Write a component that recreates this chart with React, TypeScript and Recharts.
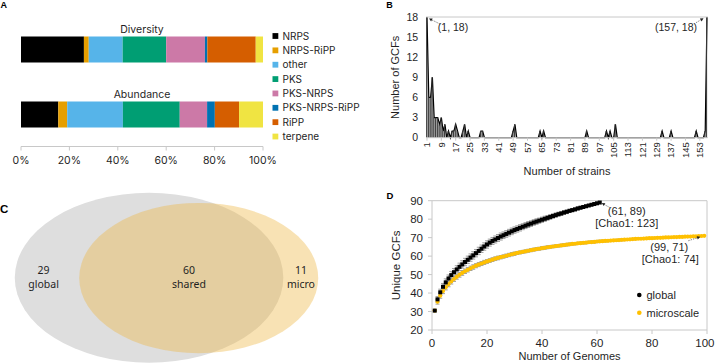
import React from 'react';
import {
  BarChart,
  Bar,
  ComposedChart,
  Area,
  ScatterChart,
  Scatter,
  XAxis,
  YAxis,
  ReferenceLine,
  ReferenceDot,
  ReferenceArea,
  ErrorBar,
} from 'recharts';

// ---------- data ----------

// A: BGC class composition (% of GCFs / % of BGCs)
const bgcClasses = ['NRPS', 'NRPS-RiPP', 'other', 'PKS', 'PKS-NRPS', 'PKS-NRPS-RiPP', 'RiPP', 'terpene'];
const classColors = ['#000000', '#E69F00', '#56B4E9', '#009E73', '#CC79A7', '#0072B2', '#D55E00', '#F0E442'];
const compositionRows = ['Diversity', 'Abundance'];
const diversityPct = [26, 2, 14, 18, 16, 1, 20, 3];
const abundancePct = [15.4, 3.7, 23.0, 23.5, 11.3, 3.2, 10.0, 9.9];
const pctTicks = [0, 20, 40, 60, 80, 100];

// B: number of GCFs shared by n strains (n = 1..157)
const gcfsPerStrainCount = [
  18, 6, 6, 9, 3, 3, 3, 2, 3, 1,
  2, 0, 1, 0, 1, 1, 2, 1, 0, 0,
  1, 2, 0, 1, 0, 0, 0, 0, 0, 0,
  1, 1, 0, 0, 0, 0, 0, 0, 0, 0,
  0, 0, 0, 0, 0, 0, 0, 0, 1, 2,
  0, 0, 0, 0, 0, 0, 0, 0, 0, 0,
  0, 0, 0, 1, 0, 1, 0, 0, 0, 0,
  0, 0, 0, 0, 0, 0, 0, 0, 0, 0,
  0, 0, 0, 0, 0, 0, 0, 0, 0, 1,
  0, 0, 0, 0, 0, 0, 0, 0, 0, 0,
  1, 0, 1, 0, 0, 2, 0, 0, 0, 0,
  0, 0, 0, 0, 0, 0, 0, 0, 0, 0,
  0, 0, 0, 0, 0, 0, 0, 0, 0, 0,
  0, 1, 0, 0, 0, 0, 1, 0, 0, 0,
  0, 0, 0, 0, 0, 0, 0, 0, 0, 0,
  1, 0, 0, 0, 0, 1, 18,
];
const gcfTicks = [0, 3, 6, 9, 12, 15, 18];

// C: GCF overlap between the global and microscale collections
const vennNames = ['global', 'shared', 'micro'];
const vennCounts = [29, 60, 11];

// D: rarefaction of unique GCFs (mean and sd per number of genomes)
const globalCurve = [
  30.5, 36.6, 40.4, 43.4, 45.8, 47.9, 49.7, 51.3, 52.8, 54.2,
  55.5, 56.8, 58.0, 59.2, 60.4, 61.6, 62.8, 64.0, 65.2, 66.3,
  67.3, 68.2, 69.0, 69.8, 70.6, 71.3, 72.0, 72.7, 73.4, 74.1,
  74.7, 75.3, 75.9, 76.5, 77.1, 77.6, 78.2, 78.7, 79.2, 79.7,
  80.2, 80.7, 81.2, 81.7, 82.2, 82.7, 83.1, 83.6, 84.0, 84.5,
  84.9, 85.3, 85.8, 86.2, 86.6, 87.0, 87.4, 87.8, 88.2, 88.6,
  89.0,
];
const globalSd = [
  0, 1.5, 1.7, 1.8, 1.9, 1.9, 2.0, 2.0, 2.0, 2.0,
  2.0, 2.0, 2.0, 2.0, 2.0, 2.0, 2.0, 2.0, 2.0, 2.0,
  1.9, 1.9, 1.9, 1.9, 1.9, 1.8, 1.8, 1.8, 1.8, 1.7,
  1.7, 1.7, 1.6, 1.6, 1.6, 1.5, 1.5, 1.5, 1.4, 1.4,
  1.4, 1.3, 1.3, 1.2, 1.2, 1.1, 1.1, 1.0, 1.0, 0.9,
  0.9, 0.8, 0.8, 0.7, 0.6, 0.6, 0.5, 0.4, 0.3, 0.2,
  0,
];
const microCurve = [
  30.5, 35.3, 38.6, 41.1, 43.1, 44.8, 46.3, 47.6, 48.8, 49.9,
  50.9, 51.8, 52.6, 53.4, 54.1, 54.8, 55.4, 56.0, 56.6, 57.1,
  57.6, 58.1, 58.6, 59.0, 59.4, 59.8, 60.2, 60.6, 61.0, 61.3,
  61.7, 62.0, 62.3, 62.6, 62.9, 63.2, 63.5, 63.8, 64.0, 64.3,
  64.5, 64.8, 65.0, 65.2, 65.4, 65.6, 65.8, 66.0, 66.2, 66.4,
  66.6, 66.7, 66.9, 67.0, 67.2, 67.3, 67.5, 67.6, 67.7, 67.9,
  68.0, 68.1, 68.2, 68.3, 68.4, 68.5, 68.6, 68.7, 68.8, 68.9,
  69.0, 69.1, 69.2, 69.3, 69.4, 69.4, 69.5, 69.6, 69.7, 69.7,
  69.8, 69.9, 69.9, 70.0, 70.1, 70.1, 70.2, 70.3, 70.3, 70.4,
  70.4, 70.5, 70.6, 70.6, 70.7, 70.7, 70.8, 70.9, 71.0,
];
const microSd = [
  0, 1.3, 1.4, 1.4, 1.4, 1.4, 1.4, 1.3, 1.3, 1.3,
  1.3, 1.2, 1.2, 1.2, 1.2, 1.1, 1.1, 1.1, 1.1, 1.0,
  1.0, 1.0, 1.0, 1.0, 0.9, 0.9, 0.9, 0.9, 0.9, 0.9,
  0.8, 0.8, 0.8, 0.8, 0.8, 0.8, 0.8, 0.8, 0.8, 0.8,
  0.8, 0.8, 0.7, 0.7, 0.7, 0.7, 0.7, 0.7, 0.7, 0.7,
  0.6, 0.6, 0.6, 0.6, 0.6, 0.6, 0.6, 0.6, 0.6, 0.6,
  0.6, 0.6, 0.5, 0.5, 0.5, 0.5, 0.5, 0.5, 0.5, 0.5,
  0.4, 0.4, 0.4, 0.4, 0.4, 0.4, 0.4, 0.4, 0.4, 0.4,
  0.4, 0.4, 0.3, 0.3, 0.3, 0.3, 0.3, 0.3, 0.3, 0.3,
  0.2, 0.2, 0.2, 0.2, 0.2, 0.1, 0.1, 0.1, 0,
];
const chao1Global = 123;
const chao1Micro = 74;
const genomeTicks = [0, 20, 40, 60, 80, 100];
const uniqueTicks = [20, 30, 40, 50, 60, 70, 80, 90];

// ---------- styling ----------

const TEXT = '#1f1f1f';
const GREY = '#c8c8c8';
const ARIAL = '"Liberation Sans", Arial, sans-serif';
const INTER = 'Inter, "Liberation Sans", sans-serif';
const NOTO = '"Noto Sans", "Liberation Sans", sans-serif';
const GOLD = '#FFC000';

// plot edges of panel A (px)
const A_LEFT = 21;
const A_RIGHT = 263;

// Venn ellipse layout, in the 0-100 units of panel C's axes
const vennEllipses = [
  { cx: 41.4, cy: 46.6, rx: 37.3, ry: 46.4, fill: '#dedede', opacity: 1 },
  { cx: 55.2, cy: 46.4, rx: 33.2, ry: 41.1, fill: '#EDB643', opacity: 0.4 },
];
const vennLabelX = [12.1, 52.5, 83.6];
const VENN_LABEL_Y = 47;

// ---------- derived tables ----------

const compositionData = compositionRows.map((row, r) => {
  const pct = r === 0 ? diversityPct : abundancePct;
  const entry: Record<string, string | number> = { row };
  bgcClasses.forEach((c, i) => {
    entry[c] = pct[i];
  });
  return entry;
});

const strainData = gcfsPerStrainCount.map((gcfs, i) => ({ strain: i + 1, gcfs }));

const vennLabelData = vennNames.map((name, i) => ({
  x: vennLabelX[i],
  y: VENN_LABEL_Y,
  count: vennCounts[i],
  name,
}));

const globalPoints = globalCurve.map((gcfs, i) => ({ genomes: i + 1, gcfs, sd: globalSd[i] }));
const microPoints = microCurve.map((gcfs, i) => ({ genomes: i + 1, gcfs, sd: microSd[i] }));
const globalLast = globalPoints[globalPoints.length - 1];
const microLast = microPoints[microPoints.length - 1];

// ---------- small pieces ----------

// dashed leader with a small solid head at (x2, y2)
const Pointer = ({ x1, y1, x2, y2 }: any) => {
  const a = Math.atan2(y2 - y1, x2 - x1);
  const len = 3.2;
  const w = 1.7;
  const bx = x2 - len * Math.cos(a);
  const by = y2 - len * Math.sin(a);
  const pts = `${x2},${y2} ${bx - w * Math.sin(a)},${by + w * Math.cos(a)} ${bx + w * Math.sin(a)},${by - w * Math.cos(a)}`;
  return (
    <g>
      <line x1={x1} y1={y1} x2={bx} y2={by} stroke="#555" strokeWidth={0.7} strokeDasharray="1.5 1" />
      <polygon points={pts} fill="#222" />
    </g>
  );
};

const RowTitle = ({ y, payload }: any) => (
  <text x={(A_LEFT + A_RIGHT) / 2} y={y - 16.5} textAnchor="middle" fontFamily={INTER} fontSize={10.5} fill={TEXT}>
    {payload.value}
  </text>
);

const StrainTick = ({ x, y, payload }: any) => (
  <text
    x={x}
    y={y}
    transform={`rotate(-90 ${x} ${y})`}
    textAnchor="end"
    dy="0.35em"
    fontSize={9.5}
    fontFamily={ARIAL}
    fill={TEXT}
  >
    {payload.value}
  </text>
);

// last genome tick is right-aligned so it stays inside the figure
const GenomeTick = ({ x, y, payload }: any) => {
  const last = payload.value === genomeTicks[genomeTicks.length - 1];
  return (
    <text
      x={last ? x + 7.5 : x}
      y={y}
      dy="0.71em"
      textAnchor={last ? 'end' : 'middle'}
      fontSize={11.5}
      fontFamily={ARIAL}
      fill={TEXT}
    >
      {payload.value}
    </text>
  );
};

const ellipseShape = (fill: string, opacity: number) => (p: any) => (
  <ellipse
    cx={p.x + p.width / 2}
    cy={p.y + p.height / 2}
    rx={p.width / 2}
    ry={p.height / 2}
    fill={fill}
    fillOpacity={opacity}
  />
);

const VennLabel = ({ cx, cy, payload }: any) => (
  <text textAnchor="middle" fontFamily={NOTO} fontSize={10.5} fill={TEXT}>
    <tspan x={cx} y={cy - 3}>{payload.count}</tspan>
    <tspan x={cx} y={cy + 11}>{payload.name}</tspan>
  </text>
);

const SquareMark = ({ cx, cy }: any) => <rect x={cx - 2} y={cy - 2} width={4} height={4} fill="#000" />;
const GoldMark = ({ cx, cy }: any) => <circle cx={cx} cy={cy} r={2.1} fill={GOLD} />;

const axisText = { fontSize: 10.5, fill: TEXT, fontFamily: ARIAL };

// ---------- panels ----------

const PanelA = () => (
  <BarChart
    width={360}
    height={180}
    layout="vertical"
    data={compositionData}
    margin={{ top: 16.5, right: 360 - A_RIGHT, bottom: 3.5, left: 0 }}
  >
    <XAxis
      type="number"
      domain={[0, 100]}
      ticks={pctTicks}
      allowDataOverflow
      tickFormatter={(v) => `${v}%`}
      axisLine={{ stroke: GREY }}
      tickLine={{ stroke: GREY }}
      tickSize={4}
      tickMargin={6}
      height={30}
      tick={{ fontSize: 10.5, fill: TEXT, fontFamily: INTER }}
    />
    <YAxis
      type="category"
      dataKey="row"
      width={A_LEFT}
      axisLine={false}
      tickLine={false}
      interval={0}
      tick={<RowTitle />}
    />
    {bgcClasses.map((c, i) => (
      <Bar key={c} dataKey={c} stackId="bgc" fill={classColors[i]} barSize={26} isAnimationActive={false} />
    ))}
  </BarChart>
);

const PanelB = () => (
  <ComposedChart
    width={355}
    height={180}
    data={strainData}
    barCategoryGap={0}
    margin={{ top: 17, right: 7.1, bottom: 0, left: 0 }}
  >
    <ReferenceLine y={18} stroke={GREY} />
    <XAxis
      dataKey="strain"
      type="category"
      interval={7}
      height={42.3}
      tick={<StrainTick />}
      tickSize={3}
      tickMargin={1.5}
      tickLine={{ stroke: GREY }}
      axisLine={{ stroke: GREY }}
      label={{ value: 'Number of strains', position: 'insideBottom', offset: 5, ...axisText, fontSize: 11 }}
    />
    <YAxis
      domain={[0, 18]}
      ticks={gcfTicks}
      interval={0}
      width={66.1}
      axisLine={false}
      tickLine={false}
      tick={axisText}
      label={{
        value: 'Number of GCFs',
        angle: -90,
        position: 'insideLeft',
        offset: 35,
        style: { textAnchor: 'middle' },
        ...axisText,
        fontSize: 11,
      }}
    />
    <Area
      type="linear"
      dataKey="gcfs"
      stroke="#000"
      strokeWidth={1.2}
      fill="#b4b4b4"
      fillOpacity={1}
      dot={false}
      activeDot={false}
      isAnimationActive={false}
    />
    <Bar dataKey="gcfs" barSize={1} fill="#3a3a3a" isAnimationActive={false} />
    <ReferenceDot
      x={strainData[0].strain}
      y={strainData[0].gcfs}
      r={0}
      shape={(p: any) => (
        <g>
          <Pointer x1={p.cx + 13} y1={p.cy + 7} x2={p.cx + 2} y2={p.cy + 1.5} />
          <text x={p.cx + 26} y={p.cy + 13.5} textAnchor="middle" {...axisText}>
            {`(${strainData[0].strain}, ${strainData[0].gcfs})`}
          </text>
        </g>
      )}
    />
    <ReferenceDot
      x={strainData[strainData.length - 1].strain}
      y={strainData[strainData.length - 1].gcfs}
      r={0}
      shape={(p: any) => (
        <g>
          <Pointer x1={p.cx - 11} y1={p.cy + 5.7} x2={p.cx - 3.5} y2={p.cy + 1.3} />
          <text x={p.cx - 31} y={p.cy + 13.5} textAnchor="middle" {...axisText}>
            {`(${strainData[strainData.length - 1].strain}, ${strainData[strainData.length - 1].gcfs})`}
          </text>
        </g>
      )}
    />
  </ComposedChart>
);

const PanelC = () => (
  <ScatterChart width={360} height={183} margin={{ top: 0, right: 0, bottom: 0, left: 0 }}>
    <XAxis type="number" dataKey="x" domain={[0, 100]} hide />
    <YAxis type="number" dataKey="y" domain={[0, 100]} hide />
    {vennEllipses.map((e, i) => (
      <ReferenceArea
        key={i}
        x1={e.cx - e.rx}
        x2={e.cx + e.rx}
        y1={e.cy - e.ry}
        y2={e.cy + e.ry}
        ifOverflow="visible"
        shape={ellipseShape(e.fill, e.opacity)}
      />
    ))}
    <Scatter data={vennLabelData} shape={<VennLabel />} isAnimationActive={false} />
  </ScatterChart>
);

const dText = { fontSize: 11, fill: TEXT, fontFamily: ARIAL };

const PanelD = () => (
  <ScatterChart width={355} height={183} margin={{ top: 20.7, right: 8, bottom: 0, left: 0 }}>
    <XAxis
      type="number"
      dataKey="genomes"
      domain={[0, 100]}
      ticks={genomeTicks}
      interval={0}
      height={33}
      axisLine={{ stroke: GREY }}
      tickLine={{ stroke: GREY }}
      tickSize={4}
      tickMargin={5}
      tick={<GenomeTick />}
      label={{ value: 'Number of Genomes', position: 'insideBottom', offset: 3, ...dText }}
    />
    <YAxis
      type="number"
      dataKey="gcfs"
      domain={[20, 90]}
      ticks={uniqueTicks}
      interval={0}
      width={72}
      axisLine={{ stroke: GREY }}
      tickLine={{ stroke: GREY }}
      tickSize={4}
      tickMargin={5}
      tick={{ ...dText, fontSize: 11.5 }}
      label={{
        value: 'Unique GCFs',
        angle: -90,
        position: 'insideLeft',
        offset: 36,
        style: { textAnchor: 'middle' },
        ...dText,
        fontSize: 11.5,
      }}
    />
    <ReferenceLine y={90} stroke={GREY} />
    <ReferenceLine x={100} stroke={GREY} />
    <Scatter data={microPoints} shape={<GoldMark />} isAnimationActive={false}>
      <ErrorBar dataKey="sd" direction="y" width={2} stroke="#a0a0a0" strokeWidth={1} />
    </Scatter>
    <Scatter data={globalPoints} shape={<SquareMark />} isAnimationActive={false}>
      <ErrorBar dataKey="sd" direction="y" width={2} stroke="#a0a0a0" strokeWidth={1} />
    </Scatter>
    <ReferenceDot
      x={globalLast.genomes}
      y={globalLast.gcfs}
      r={0}
      shape={(p: any) => (
        <g>
          <Pointer x1={p.cx + 10} y1={p.cy + 5} x2={p.cx + 2} y2={p.cy + 0.5} />
          <text textAnchor="middle" {...dText}>
            <tspan x={p.cx + 27} y={p.cy + 12.7}>{`(${globalLast.genomes}, ${Math.round(globalLast.gcfs)})`}</tspan>
            <tspan x={p.cx + 27} y={p.cy + 24.5}>{`[Chao1: ${chao1Global}]`}</tspan>
          </text>
        </g>
      )}
    />
    <ReferenceDot
      x={microLast.genomes}
      y={microLast.gcfs}
      r={0}
      shape={(p: any) => (
        <g>
          <Pointer x1={p.cx - 16} y1={p.cy + 5} x2={p.cx - 4} y2={p.cy + 1} />
          <text textAnchor="middle" {...dText}>
            <tspan x={p.cx - 35} y={p.cy + 15}>{`(${microLast.genomes}, ${Math.round(microLast.gcfs)})`}</tspan>
            <tspan x={p.cx - 34} y={p.cy + 27}>{`[Chao1: ${chao1Micro}]`}</tspan>
          </text>
        </g>
      )}
    />
  </ScatterChart>
);

// legends and panel letters
const Overlay = () => (
  <svg width={715} height={363} style={{ position: 'absolute', left: 0, top: 0, pointerEvents: 'none' }}>
    {bgcClasses.map((c, i) => {
      const cy = 36 + i * 14.36;
      return (
        <g key={c}>
          <rect x={272.5} y={cy - 2.9} width={5.8} height={5.8} fill={classColors[i]} />
          <text x={282.5} y={cy + 3.6} fontFamily={INTER} fontSize={10} fill={TEXT}>
            {c}
          </text>
        </g>
      );
    })}
    {[
      { name: 'global', color: '#000' },
      { name: 'microscale', color: GOLD },
    ].map((s, i) => {
      const cy = 295 + i * 17.7;
      return (
        <g key={s.name}>
          <circle cx={639.3} cy={cy} r={2.3} fill={s.color} />
          <text x={646.5} y={cy + 4} {...dText}>
            {s.name}
          </text>
        </g>
      );
    })}
    <g fontFamily={ARIAL} fontWeight="bold" fill="#000">
      <text x={0.5} y={8.4} fontSize={9}>A</text>
      <text x={386.2} y={8} fontSize={9}>B</text>
      <text x={0} y={213.3} fontSize={11.5}>C</text>
      <text x={386.5} y={199.4} fontSize={9.5}>D</text>
    </g>
  </svg>
);

const App = () => (
  <div
    style={{
      position: 'absolute',
      left: 0,
      top: 0,
      width: 715,
      height: 363,
      background: '#fff',
      overflow: 'hidden',
    }}
  >
    <div style={{ position: 'absolute', left: 0, top: 0 }}>
      <PanelA />
    </div>
    <div style={{ position: 'absolute', left: 360, top: 0 }}>
      <PanelB />
    </div>
    <div style={{ position: 'absolute', left: 0, top: 180 }}>
      <PanelC />
    </div>
    <div style={{ position: 'absolute', left: 360, top: 180 }}>
      <PanelD />
    </div>
    <Overlay />
  </div>
);

export default App;
